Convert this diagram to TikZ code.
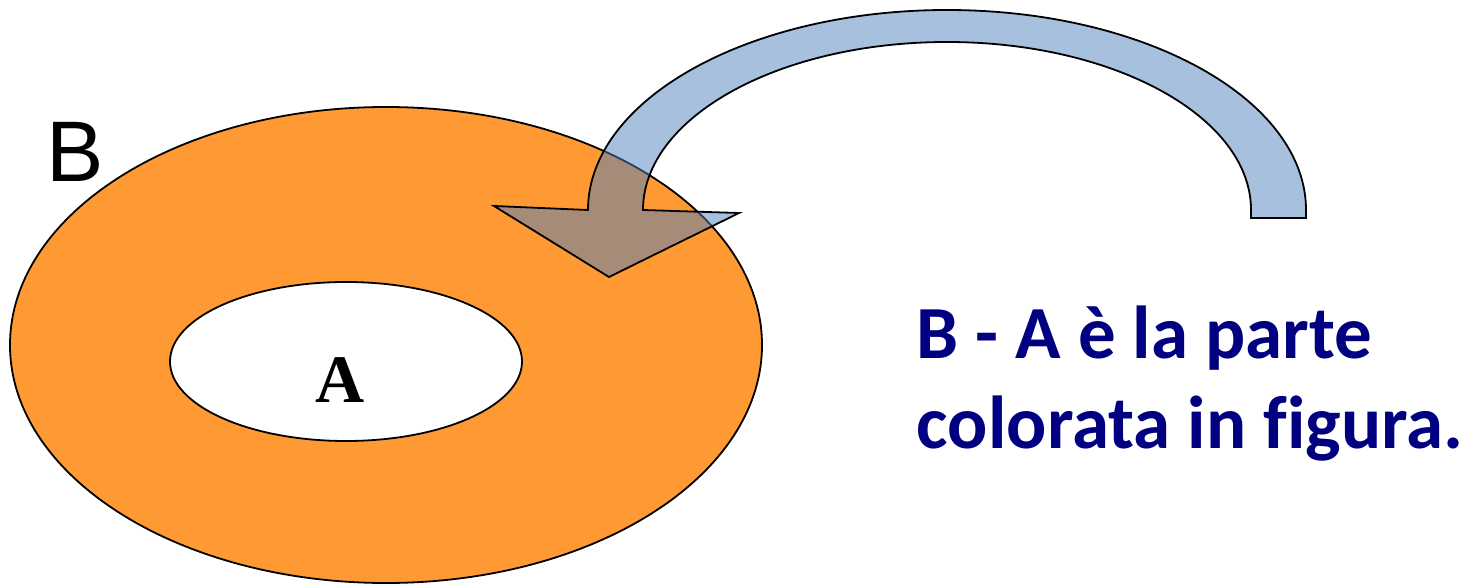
\documentclass[tikz,border=0pt]{standalone}
\usepackage{fontspec}
\setmainfont{Liberation Serif}
\setsansfont{Liberation Sans}
\newfontfamily\calib[Ligatures=NoCommon]{Carlito}

\definecolor{donut}{HTML}{FF9933}
\definecolor{bend}{HTML}{4F81BD}
\definecolor{navytext}{HTML}{000080}

\begin{document}
\begin{tikzpicture}[x=1pt,y=-1pt,line width=1.8pt]
\tikzset{ring/.style={fill=donut,draw=black},
  hole/.style={fill=white,draw=black},
  uturn/.style={fill=bend,fill opacity=0.5,draw=black,line join=miter},
  caption/.style={font=\calib\bfseries\fontsize{75}{90}\selectfont,text=navytext,anchor=base west,inner sep=0pt}}
\useasboundingbox (0,0) rectangle (1469,585);
% ---------- set B with the hole A ----------
\draw[ring] (386,345) ellipse [x radius=376, y radius=238];
\draw[hole] (346,361.5) ellipse [x radius=176, y radius=79.5];
\node[font=\sffamily\fontsize{86}{86}\selectfont,anchor=base,inner sep=0pt] (labB) at (75,182) {B};
\node[font=\rmfamily\bfseries\fontsize{68}{68}\selectfont,anchor=base,inner sep=0pt] (labA) at (340,402) {A};
% ---------- curved arrow ----------
\draw[uturn] (1306,218) -- (1306,210) arc[start angle=0, end angle=-180, x radius=359, y radius=200]
  -- (494,206) -- (609,277) -- (739,213) -- (643,210)
  arc[start angle=180, end angle=360, x radius=304, y radius=168] -- (1251,218) -- cycle;
% ---------- caption ----------
\node[caption] (line1) at (916,358) {B - A è la parte};
\node[caption] (line2) at (916,448) {colorata in figura.};
\end{tikzpicture}
\end{document}
